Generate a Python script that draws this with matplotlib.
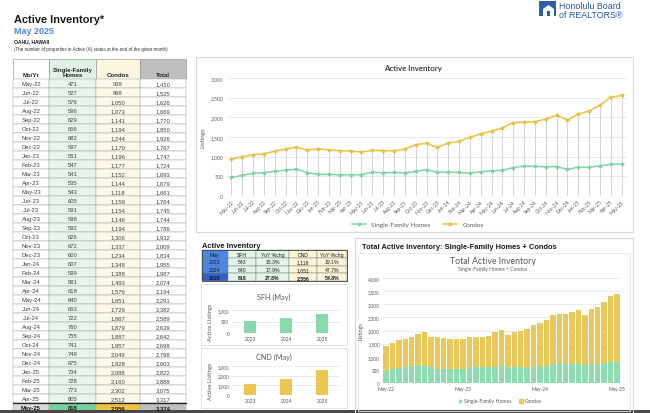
import matplotlib
matplotlib.use('Agg')
import matplotlib.pyplot as plt
from matplotlib.patches import Rectangle, Polygon
from matplotlib.lines import Line2D

# ---------------- data ----------------
months = ['May-22', 'Jun-22', 'Jul-22', 'Aug-22', 'Sep-22', 'Oct-22', 'Nov-22', 'Dec-22',
          'Jan-23', 'Feb-23', 'Mar-23', 'Apr-23', 'May-23', 'Jun-23', 'Jul-23', 'Aug-23',
          'Sep-23', 'Oct-23', 'Nov-23', 'Dec-23', 'Jan-24', 'Feb-24', 'Mar-24', 'Apr-24',
          'May-24', 'Jun-24', 'Jul-24', 'Aug-24', 'Sep-24', 'Oct-24', 'Nov-24', 'Dec-24',
          'Jan-25', 'Feb-25', 'Mar-25', 'Apr-25', 'May-25']
sfh = [471, 527, 576, 596, 629, 656, 682, 597, 551, 547, 541, 535, 543, 605, 591, 598,
       592, 626, 672, 600, 607, 599, 581, 618, 640, 653, 722, 760, 755, 741, 749, 675,
       734, 728, 773, 805, 818]
condos = [939, 998, 1050, 1073, 1141, 1194, 1244, 1170, 1196, 1177, 1152, 1144, 1118,
          1159, 1154, 1146, 1194, 1306, 1337, 1234, 1348, 1388, 1493, 1576, 1651, 1729,
          1867, 1879, 1887, 1957, 2049, 1928, 2088, 2160, 2302, 2512, 2556]
totals = [1410, 1525, 1626, 1669, 1770, 1850, 1926, 1767, 1747, 1724, 1693, 1679, 1661,
          1764, 1745, 1744, 1786, 1932, 2009, 1834, 1955, 1987, 2074, 2194, 2291, 2382,
          2589, 2639, 2642, 2698, 2798, 2603, 2822, 2888, 3075, 3317, 3374]

mini_years = ['2023', '2024', '2025']
mini_sfh = [543, 640, 818]
mini_sfh_yoy = ['15.3%', '17.9%', '27.8%']
mini_cnd = [1118, 1651, 2556]
mini_cnd_yoy = ['19.1%', '47.7%', '54.8%']

line_ticks = [0, 500, 1000, 1500, 2000, 2500, 3000]
stack_ticks = [0, 500, 1000, 1500, 2000, 2500, 3000, 3500, 4000]
stack_xlabels = ['May-22', 'May-23', 'May-24', 'May-25']

# ---------------- styling ----------------
GREEN = '#7fd5a3'
GOLD = '#e8c247'
TXT = '#595959'
ARIAL = 'Liberation Sans'
CHART = 'Lato'

W, H = 650, 414
fig = plt.figure(figsize=(6.5, 4.14), dpi=100)
fig.patch.set_facecolor('white')


def px_axes(x0, y0, x1, y1):
    return fig.add_axes([x0 / W, 1 - y1 / H, (x1 - x0) / W, (y1 - y0) / H])


bg = fig.add_axes([0, 0, 1, 1])
bg.set_xlim(0, W)
bg.set_ylim(H, 0)
bg.axis('off')

# ---------------- header texts ----------------
bg.text(14, 20, 'Active Inventory*', fontsize=7.9, weight='bold', family=ARIAL,
        color='#1a1a1a', va='center')
bg.text(14, 32, 'May 2025', fontsize=6.5, weight='bold', family=ARIAL,
        color='#4a86e8', va='center')
bg.text(14, 41.5, 'OAHU, HAWAII', fontsize=3.6, weight='bold', family=ARIAL,
        color='#1a1a1a', va='center')
bg.text(14, 50, '(The number of properties in Active (A) status at the end of the given month)',
        fontsize=3.25, family=ARIAL, color='#333333', va='center')

# logo
bg.add_patch(Rectangle((539, 2), 17, 15, color='#2d5ea8', lw=0))
bg.add_patch(Polygon([[543, 17], [543, 10], [548.5, 6], [554, 10], [554, 17]],
                     closed=True, color='white', lw=0))
bg.add_patch(Rectangle((547, 12), 3, 5, color='#2d5ea8', lw=0))
bg.text(559, 6.5, 'Honolulu Board', fontsize=6.4, family=ARIAL, color='#2456a4', va='center')
bg.text(559, 15, 'of REALTORS®', fontsize=6.4, family=ARIAL, color='#2456a4', va='center')

# ---------------- main table ----------------
cols = [13, 49, 96, 140, 186]
hdr_top, hdr_bot = 60, 80
row_h = 9.0
hdr_fill = ['white', '#e2f1e6', '#fcf5df', '#bfbfbf']
body_fill = ['white', '#e8f5ec', '#fdf8e8', 'white']
last_fill = ['#d9d9d9', '#74d09c', '#efc13f', '#bfbfbf']
for c in range(4):
    bg.add_patch(Rectangle((cols[c], hdr_top), cols[c + 1] - cols[c], hdr_bot - hdr_top,
                           facecolor=hdr_fill[c], edgecolor='#8c8c8c', lw=0.4))
hdr_txt = ['Mo/Yr', 'Single-Family\nHomes', 'Condos', 'Total']
for c, t in enumerate(hdr_txt):
    bg.text((cols[c] + cols[c + 1]) / 2, hdr_bot - 2, t, fontsize=4.4, weight='bold',
            family=ARIAL, color='#262626', ha='center', va='bottom', linespacing=1.1)

n = len(months)
for i in range(n):
    y0 = hdr_bot + i * row_h
    last = (i == n - 1)
    fills = last_fill if last else body_fill
    vals = [months[i], f'{sfh[i]:,}', f'{condos[i]:,}', f'{totals[i]:,}']
    for c in range(4):
        bg.add_patch(Rectangle((cols[c], y0), cols[c + 1] - cols[c], row_h,
                               facecolor=fills[c], edgecolor='#a6a6a6', lw=0.35))
        bg.text((cols[c] + cols[c + 1]) / 2, y0 + row_h / 2 + 0.3, vals[c], fontsize=4.2,
                family=ARIAL, color='#1a1a1a' if last else '#404040', ha='center',
                va='center', weight='bold' if last else 'normal')
bg.plot([cols[0], cols[-1]], [hdr_bot + (n - 1) * row_h] * 2, color='#222222', lw=0.9)
bg.add_patch(Rectangle((0, 411), W, 3, color='#4a4a4a', lw=0))

# ---------------- line chart panel ----------------
bg.add_patch(Rectangle((196, 58), 437, 175, fill=False, ec='#d9d9d9', lw=0.8))
bg.text(413, 68, 'Active Inventory', fontsize=5.6, weight='bold', family=CHART,
        color='#404040', ha='center', va='center')
ax1 = px_axes(226, 79, 627, 197)
x = list(range(n))
ax1.vlines(x, 0, condos, color='#d4d4d4', lw=0.7, zorder=1)
ax1.plot(x, sfh, color=GREEN, lw=1.1, marker='D', ms=1.6, zorder=3)
ax1.plot(x, condos, color=GOLD, lw=1.1, marker='D', ms=1.6, zorder=3)
ax1.set_xlim(-0.5, n - 0.5)
ax1.set_ylim(0, 3000)
ax1.set_yticks(line_ticks)
ax1.set_yticklabels([f'{v:,}' for v in line_ticks], fontsize=3.6, color=TXT, family=CHART)
ax1.set_xticks(x)
ax1.set_xticklabels(months, rotation=45, ha='right', rotation_mode='anchor', fontsize=3.6,
                    color=TXT, family=CHART)
ax1.tick_params(length=0, pad=2)
ax1.grid(axis='y', color='#e6e6e6', lw=0.6)
ax1.set_axisbelow(True)
for s in ax1.spines.values():
    s.set_visible(False)
ax1.patch.set_alpha(0)
ax1.set_ylabel('Listings', fontsize=4.5, color=TXT, family=CHART, labelpad=4)
h1 = [Line2D([], [], color=GREEN, lw=1.1, marker='D', ms=1.6),
      Line2D([], [], color=GOLD, lw=1.1, marker='D', ms=1.6)]
fig.legend(h1, ['Single-Family Homes', 'Condos'], loc='center',
           bbox_to_anchor=(418 / W, 1 - 225 / H), ncol=2, frameon=False,
           prop={'family': CHART, 'size': 4.6}, labelcolor=TXT, handlelength=2.2,
           columnspacing=2.0)

# ---------------- mini table ----------------
bg.text(202, 247, 'Active Inventory', fontsize=5.4, weight='bold', family=ARIAL,
        color='#1a1a1a', va='center')
mcols = [202, 228, 256, 289, 317, 347]
mtop = 251
mrow = 7.75
mhdr = ['May', 'SFH', 'YoY %chg', 'CND', 'YoY %chg']
mrows = [[mini_years[i], f'{mini_sfh[i]:,}', mini_sfh_yoy[i], f'{mini_cnd[i]:,}',
          mini_cnd_yoy[i]] for i in range(3)]
col_fill = ['#4a86e8', '#e3f4e9', '#e3f4e9', '#fdf3d6', '#fdf3d6']
for r in range(4):
    y0 = mtop + r * mrow
    cells = mhdr if r == 0 else mrows[r - 1]
    for c in range(5):
        fc = col_fill[c]
        if c == 0 and r == 3:
            fc = '#3560c8'
        bg.add_patch(Rectangle((mcols[c], y0), mcols[c + 1] - mcols[c], mrow,
                               facecolor=fc, edgecolor='#7f7f7f', lw=0.35))
        bg.text((mcols[c] + mcols[c + 1]) / 2, y0 + mrow / 2 + 0.2, cells[c], fontsize=3.7,
                family=ARIAL, color='#1a1a1a', ha='center', va='center',
                weight='bold' if r == 3 else 'normal')
bg.add_patch(Rectangle((mcols[0], mtop), mcols[-1] - mcols[0], 4 * mrow, fill=False,
                       ec='#404040', lw=0.6))


# ---------------- mini bar charts ----------------
def mini_chart(top, bot, title, ty, ax_box, vals, color, ticks):
    bg.add_patch(Rectangle((201, top), 146, bot - top, fill=False, ec='#e3e3e3', lw=0.7))
    bg.text(274, ty, title, fontsize=5.2, family=CHART, color=TXT, ha='center', va='center')
    ax = px_axes(*ax_box)
    ax.bar(range(3), vals, width=0.31, color=color, zorder=2)
    ax.set_xlim(-0.5, 2.5)
    ax.set_ylim(0, ticks[-1])
    ax.set_yticks(ticks)
    ax.set_yticklabels([f'{v:,}' for v in ticks], fontsize=3.3, color=TXT, family=CHART)
    ax.set_xticks(range(3))
    ax.set_xticklabels(mini_years, fontsize=3.5, color=TXT, family=CHART)
    ax.tick_params(length=0, pad=2)
    ax.grid(axis='y', color='#e6e6e6', lw=0.6)
    ax.set_axisbelow(True)
    for s in ax.spines.values():
        s.set_visible(False)
    ax.patch.set_alpha(0)
    ax.set_ylabel('Active Listings', fontsize=4.2, color=TXT, family=CHART, labelpad=3)
    return ax


mini_chart(285, 346, 'SFH (May)', 297, (232, 311, 340, 334), mini_sfh, '#8ad9ad',
           [0, 500, 1000])
mini_chart(349, 409, 'CND (May)', 357, (232, 367, 340, 396), mini_cnd, '#ebc752',
           [0, 1000, 2000, 3000])

# ---------------- stacked chart panel ----------------
bg.add_patch(Rectangle((355, 239), 278, 176, fill=False, ec='#d9d9d9', lw=0.8))
bg.add_patch(Rectangle((358, 254), 272, 158, fill=False, ec='#e6e6e6', lw=0.6))
bg.text(362, 248, 'Total Active Inventory: Single-Family Homes + Condos', fontsize=5.4,
        weight='bold', family=ARIAL, color='#1a1a1a', va='center')
bg.text(493, 262, 'Total Active Inventory', fontsize=6.3, family=CHART, color=TXT,
        ha='center', va='center')
bg.text(493, 270, 'Single-Family Homes + Condos', fontsize=3.6, family=CHART, color=TXT,
        ha='center', va='center')
ax3 = px_axes(382.8, 279, 620.2, 384)
ax3.bar(x, sfh, width=0.84, color='#8edcb2', lw=0, zorder=2)
ax3.bar(x, condos, bottom=sfh, width=0.84, color='#e9c95c', lw=0, zorder=2)
ax3.set_xlim(-0.5, n - 0.5)
ax3.set_ylim(0, 4000)
ax3.set_yticks(stack_ticks)
ax3.set_yticklabels([f'{v:,}' for v in stack_ticks], fontsize=3.3, color=TXT, family=CHART)
ax3.set_xticks([0, 12, 24, 36])
ax3.set_xticklabels(stack_xlabels, fontsize=3.5, color=TXT, family=CHART)
ax3.tick_params(length=0, pad=2)
ax3.grid(axis='y', color='#e6e6e6', lw=0.6)
ax3.set_axisbelow(True)
for s in ax3.spines.values():
    s.set_visible(False)
ax3.patch.set_alpha(0)
ax3.set_ylabel('Listings', fontsize=4.0, color=TXT, family=CHART, labelpad=3)
h3 = [Line2D([], [], color='#8edcb2', lw=0, marker='o', ms=1.8),
      Line2D([], [], color='#e9c95c', lw=0, marker='s', ms=2.6)]
fig.legend(h3, ['Single-Family Homes', 'Condos'], loc='center',
           bbox_to_anchor=(500 / W, 1 - 402 / H), ncol=2, frameon=False,
           prop={'family': CHART, 'size': 3.7}, labelcolor=TXT, handlelength=0.8,
           handletextpad=0.3, columnspacing=1.5)

fig.savefig('out.png', dpi=100, facecolor='white')
